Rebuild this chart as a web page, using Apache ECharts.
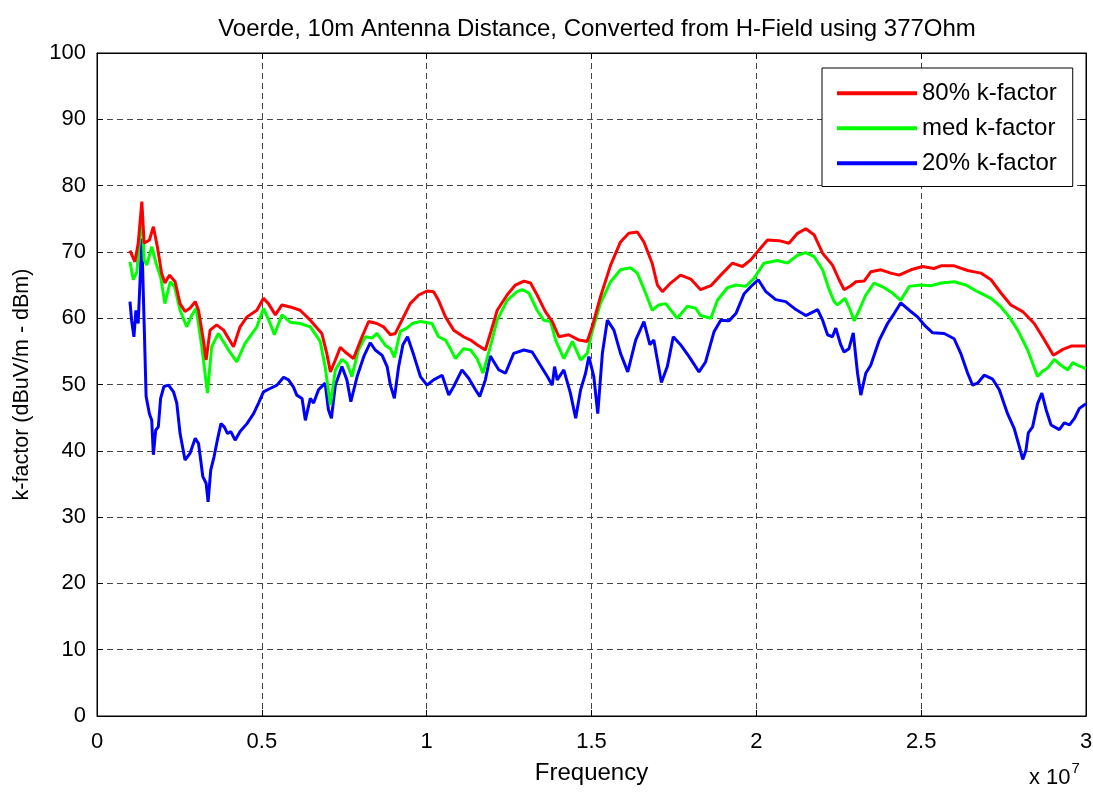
<!DOCTYPE html>
<html>
<head>
<meta charset="utf-8">
<script src="https://cdn.jsdelivr.net/npm/echarts@6/dist/echarts.min.js"></script>
<style>
  html, body { margin: 0; padding: 0; background: #fff; }
  #chart { width: 1093px; height: 793px; }
</style>
</head>
<body>
<div id="chart"></div>
<script>
// Frequency in MHz (axis shows units of 1e7 Hz), k-factor in dBuV/m - dBm
const titleText = 'Voerde, 10m Antenna Distance, Converted from H-Field using 377Ohm';
const seriesNames = ['80% k-factor', 'med k-factor', '20% k-factor'];
const xTicksMHz = [0, 5, 10, 15, 20, 25, 30];
const yTicks = [0, 10, 20, 30, 40, 50, 60, 70, 80, 90, 100];

const k80 = [
  [1.00,70.2],[1.15,68.5],[1.25,71.3],[1.36,77.6],[1.43,71.3],[1.59,71.8],[1.71,73.8],[1.83,70.8],
  [1.96,66.8],[2.06,65.3],[2.20,66.5],[2.37,65.5],[2.52,62.2],[2.67,61.0],[2.82,61.5],[2.98,62.5],
  [3.08,61.2],[3.23,56.6],[3.31,53.7],[3.43,58.2],[3.63,59.0],[3.84,58.2],[4.14,55.7],[4.34,58.7],
  [4.55,60.2],[4.85,61.2],[5.05,63.0],[5.20,62.2],[5.41,60.5],[5.61,62.0],[5.86,61.7],[6.16,61.2],
  [6.47,59.7],[6.82,57.7],[6.97,54.7],[7.08,51.9],[7.23,53.7],[7.38,55.6],[7.53,54.9],[7.78,53.9],
  [8.04,57.2],[8.24,59.5],[8.49,59.2],[8.69,58.7],[8.90,57.5],[9.05,57.7],[9.30,60.2],[9.50,62.2],
  [9.76,63.5],[10.01,64.1],[10.21,64.0],[10.36,62.7],[10.57,60.2],[10.82,58.2],[11.12,57.2],[11.33,56.7],
  [11.53,56.0],[11.78,55.2],[11.95,58.0],[12.14,61.2],[12.44,63.5],[12.69,65.0],[12.95,65.6],[13.15,65.3],
  [13.35,63.5],[13.60,61.0],[13.81,59.5],[14.01,57.2],[14.31,57.5],[14.62,56.7],[14.87,56.5],[15.02,58.7],
  [15.27,63.2],[15.58,68.0],[15.88,71.5],[16.13,72.8],[16.39,73.0],[16.59,71.5],[16.84,68.3],[17.00,65.0],
  [17.15,64.0],[17.40,65.3],[17.70,66.5],[18.01,65.9],[18.31,64.3],[18.62,64.9],[18.92,66.5],[19.27,68.3],
  [19.58,67.8],[19.83,68.8],[20.08,70.3],[20.34,71.8],[20.69,71.7],[20.99,71.3],[21.25,72.8],[21.50,73.5],
  [21.75,72.6],[22.01,69.8],[22.31,68.0],[22.51,65.8],[22.66,64.3],[22.87,64.9],[23.02,65.5],[23.27,65.6],
  [23.47,67.0],[23.78,67.3],[24.08,66.8],[24.33,66.5],[24.69,67.3],[25.04,67.8],[25.39,67.5],[25.60,67.9],
  [26.00,67.9],[26.41,67.2],[26.81,66.8],[27.12,65.8],[27.42,63.8],[27.72,62.0],[28.08,61.0],[28.43,59.2],
  [28.74,56.7],[29.01,54.4],[29.30,55.3],[29.55,55.8],[30.00,55.8]
];

const kMed = [
  [1.00,68.5],[1.10,65.8],[1.21,67.0],[1.36,76.3],[1.43,68.8],[1.51,68.0],[1.66,70.8],[1.79,68.3],
  [1.93,66.2],[2.06,62.2],[2.22,65.5],[2.35,64.8],[2.52,61.2],[2.72,58.7],[2.88,60.5],[3.01,61.5],
  [3.18,55.7],[3.35,48.7],[3.48,55.7],[3.68,57.7],[3.99,55.2],[4.24,53.4],[4.49,56.2],[4.85,58.7],
  [5.05,61.5],[5.23,59.5],[5.38,57.5],[5.61,60.5],[5.86,59.4],[6.16,59.2],[6.47,58.7],[6.77,56.5],
  [6.92,52.7],[7.08,46.9],[7.23,52.2],[7.43,53.8],[7.58,53.2],[7.73,51.2],[7.93,55.2],[8.14,57.2],
  [8.34,57.0],[8.49,57.7],[8.75,55.9],[8.90,55.4],[9.02,54.1],[9.20,58.0],[9.40,58.5],[9.56,59.2],
  [9.81,59.5],[10.16,59.2],[10.36,57.2],[10.57,56.7],[10.72,55.4],[10.87,53.9],[11.12,55.4],[11.33,55.2],
  [11.53,53.9],[11.71,51.7],[11.93,55.7],[12.14,59.7],[12.44,62.7],[12.74,64.0],[12.90,64.3],[13.10,63.8],
  [13.35,61.2],[13.55,59.7],[13.76,59.5],[13.91,56.7],[14.16,53.9],[14.42,56.5],[14.67,53.7],[14.87,54.7],
  [15.02,58.0],[15.27,62.2],[15.58,65.5],[15.88,67.3],[16.19,67.6],[16.39,66.8],[16.64,63.8],[16.84,61.2],
  [17.04,62.0],[17.25,62.2],[17.60,60.0],[17.91,61.8],[18.16,61.5],[18.31,60.4],[18.62,60.0],[18.82,62.7],
  [19.12,64.6],[19.38,65.0],[19.68,64.8],[19.93,66.0],[20.23,68.3],[20.64,68.7],[20.94,68.3],[21.25,69.5],
  [21.50,69.9],[21.75,69.3],[22.01,67.3],[22.21,64.3],[22.36,62.5],[22.46,62.0],[22.69,63.0],[22.85,61.2],
  [22.97,59.6],[23.12,61.2],[23.32,63.5],[23.57,65.3],[23.88,64.6],[24.13,63.8],[24.38,62.7],[24.64,64.8],
  [24.99,65.0],[25.30,64.9],[25.60,65.3],[26.00,65.5],[26.36,65.0],[26.71,64.0],[27.12,63.0],[27.42,61.7],
  [27.67,60.2],[27.93,58.2],[28.23,55.2],[28.53,51.2],[28.68,52.0],[28.84,52.5],[29.04,53.8],[29.24,52.9],
  [29.45,52.2],[29.60,53.3],[29.75,52.9],[30.00,52.4]
];

const k20 = [
  [1.00,62.5],[1.05,59.7],[1.12,57.2],[1.18,61.2],[1.25,59.2],[1.36,72.0],[1.43,59.2],[1.49,48.2],
  [1.59,45.6],[1.66,44.6],[1.71,39.4],[1.78,43.1],[1.86,43.6],[1.93,47.9],[2.03,49.7],[2.17,49.9],
  [2.32,48.9],[2.42,47.2],[2.52,42.6],[2.67,38.6],[2.82,39.6],[2.98,41.9],[3.08,41.1],[3.21,36.1],
  [3.31,35.1],[3.37,32.3],[3.45,37.1],[3.55,39.1],[3.65,41.6],[3.76,44.1],[3.86,43.6],[3.96,42.6],
  [4.06,42.9],[4.19,41.6],[4.34,42.9],[4.55,44.1],[4.75,45.6],[4.90,47.2],[5.05,48.9],[5.25,49.4],
  [5.46,49.9],[5.66,51.1],[5.81,50.7],[5.96,49.6],[6.06,48.4],[6.22,47.9],[6.32,44.6],[6.47,47.9],
  [6.57,47.2],[6.72,49.2],[6.92,50.2],[7.02,46.2],[7.11,44.9],[7.23,49.9],[7.43,52.7],[7.58,50.7],
  [7.70,47.4],[7.89,51.2],[8.09,54.2],[8.29,56.3],[8.44,55.2],[8.65,54.4],[8.80,52.7],[8.90,49.9],
  [9.02,47.9],[9.15,52.7],[9.28,56.0],[9.42,57.2],[9.61,54.4],[9.81,51.2],[10.01,49.9],[10.21,50.7],
  [10.47,51.4],[10.67,48.4],[10.82,49.7],[11.07,52.2],[11.28,50.9],[11.48,49.2],[11.61,48.2],[11.78,50.7],
  [11.93,54.3],[12.19,52.2],[12.39,51.7],[12.64,54.7],[12.95,55.2],[13.20,54.9],[13.45,52.9],[13.66,51.2],
  [13.81,49.9],[13.88,52.7],[13.96,50.7],[14.16,52.2],[14.36,48.7],[14.52,44.9],[14.67,49.2],[14.82,51.7],
  [14.92,54.2],[15.07,51.2],[15.19,45.6],[15.33,54.7],[15.48,59.7],[15.68,58.2],[15.88,54.7],[16.10,51.9],
  [16.34,56.7],[16.59,59.5],[16.77,56.0],[16.89,56.7],[17.12,50.3],[17.30,52.7],[17.48,57.2],[17.70,56.0],
  [17.96,54.2],[18.26,51.9],[18.46,53.4],[18.72,58.0],[18.92,59.7],[19.17,59.6],[19.38,60.7],[19.63,63.7],
  [19.88,65.0],[20.06,65.8],[20.29,64.0],[20.59,62.8],[20.89,62.5],[21.20,61.3],[21.50,60.4],[21.86,61.3],
  [22.01,59.7],[22.16,57.5],[22.31,57.2],[22.41,58.5],[22.56,56.0],[22.66,54.9],[22.81,55.4],[22.94,57.8],
  [23.07,51.7],[23.17,48.4],[23.32,51.7],[23.47,52.9],[23.73,56.7],[23.98,59.2],[24.18,60.7],[24.38,62.3],
  [24.64,61.2],[24.89,60.2],[25.09,59.0],[25.35,57.8],[25.70,57.7],[26.00,56.9],[26.20,54.7],[26.41,51.7],
  [26.56,49.9],[26.71,50.2],[26.91,51.4],[27.17,50.8],[27.37,49.2],[27.62,45.6],[27.82,43.4],[27.98,40.6],
  [28.08,38.7],[28.18,40.1],[28.25,42.7],[28.38,43.6],[28.53,47.1],[28.66,48.7],[28.79,46.2],[28.94,43.9],
  [29.19,43.2],[29.34,44.2],[29.50,43.9],[29.65,44.9],[29.80,46.4],[30.00,47.1]
];

const colors = ['#ff0000', '#00ff00', '#0000ff'];
const FONT = '"Liberation Sans", Arial, Helvetica, sans-serif';

const chart = echarts.init(document.getElementById('chart'), null, { renderer: 'canvas' });

const gridLine = { show: true, lineStyle: { color: '#444', type: [6, 4], width: 1 } };
const tickIn = { show: true, inside: true, length: 6, lineStyle: { color: '#000' } };

const option = {
  backgroundColor: '#fff',
  animation: false,
  title: {
    text: titleText,
    left: 592,
    top: 12,
    textAlign: 'center',
    textStyle: { fontFamily: FONT, fontSize: 24, fontWeight: 'normal', color: '#000' }
  },
  grid: {
    left: 97, right: 7, top: 53, bottom: 77,
    containLabel: false,
    outerBoundsMode: 'none',
    show: true, borderColor: '#000', borderWidth: 1, backgroundColor: 'transparent'
  },
  legend: {
    orient: 'vertical',
    left: 822, top: 68,
    backgroundColor: '#fff',
    borderColor: '#000', borderWidth: 1,
    padding: [13, 16, 11, 15],
    itemWidth: 80, itemHeight: 4, itemGap: 10.5,
    icon: 'rect',
    textStyle: { fontFamily: FONT, fontSize: 24, color: '#000', lineHeight: 24.5 },
    data: seriesNames
  },
  xAxis: [{
    type: 'value', min: xTicksMHz[0], max: xTicksMHz[xTicksMHz.length - 1], interval: 5,
    name: 'Frequency', nameLocation: 'middle', nameGap: 45,
    nameTextStyle: { fontFamily: FONT, fontSize: 24, color: '#000' },
    axisLine: { show: true, onZero: false, lineStyle: { color: '#000' } },
    axisTick: tickIn,
    axisLabel: { fontFamily: FONT, fontSize: 22, color: '#000', margin: 15,
      formatter: v => String(Math.round(v) / 10) },
    splitLine: gridLine
  }, {
    type: 'value', position: 'top', min: 0, max: 30, interval: 5,
    axisLine: { show: true, onZero: false, lineStyle: { color: '#000' } },
    axisTick: tickIn, axisLabel: { show: false }, splitLine: { show: false }
  }],
  yAxis: [{
    type: 'value', min: yTicks[0], max: yTicks[yTicks.length - 1], interval: 10,
    name: 'k-factor (dBuV/m - dBm)', nameLocation: 'middle', nameGap: 64,
    nameTextStyle: { fontFamily: FONT, fontSize: 21.5, color: '#000' },
    axisLine: { show: true, onZero: false, lineStyle: { color: '#000' } },
    axisTick: tickIn,
    axisLabel: { fontFamily: FONT, fontSize: 22, color: '#000', margin: 11 },
    splitLine: gridLine
  }, {
    type: 'value', position: 'right', min: 0, max: 100, interval: 10,
    axisLine: { show: true, onZero: false, lineStyle: { color: '#000' } },
    axisTick: tickIn, axisLabel: { show: false }, splitLine: { show: false }
  }],
  graphic: [{
    type: 'text', left: 1029, top: 761,
    style: {
      text: '{b|x 10}{s|7}',
      rich: {
        b: { fontFamily: FONT, fontSize: 22, color: '#000', verticalAlign: 'bottom', lineHeight: 28 },
        s: { fontFamily: FONT, fontSize: 15, color: '#000', verticalAlign: 'top', lineHeight: 28, padding: [0, 0, 13, 1] }
      }
    }
  }],
  series: [
    { name: seriesNames[0], data: k80 },
    { name: seriesNames[1], data: kMed },
    { name: seriesNames[2], data: k20 }
  ].map((s, i) => ({
    name: s.name,
    type: 'line',
    data: s.data,
    xAxisIndex: 0, yAxisIndex: 0,
    showSymbol: false,
    symbol: 'none',
    color: colors[i],
    lineStyle: { color: colors[i], width: 3 },
    z: 3 - i
  }))
};

chart.setOption(option);
</script>
</body>
</html>
